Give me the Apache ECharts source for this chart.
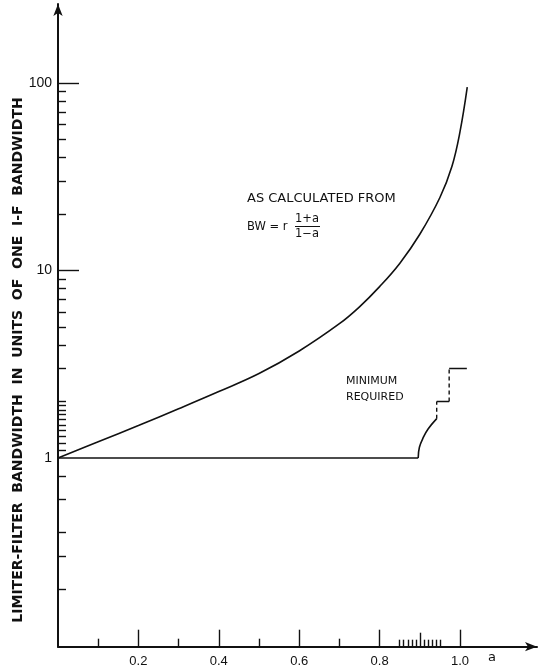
<!DOCTYPE html>
<html>
<head>
<meta charset="utf-8">
<script src="https://cdn.jsdelivr.net/npm/echarts@6/dist/echarts.min.js"></script>
<style>
  html, body { margin: 0; padding: 0; background: #fff; }
  #chart { width: 541px; height: 669px; }
</style>
</head>
<body>
<div id="chart"></div>
<script>
// Limiter-filter bandwidth vs. a (log scale on the bandwidth axis)

// Curve "as calculated from BW = r (1+a)/(1-a)"
const calcA  = [0, 0.1, 0.2, 0.3, 0.4, 0.5, 0.6, 0.7, 0.75, 0.8, 0.85, 0.9, 0.95, 0.98, 1.0, 1.018];
const calcBW = [1, 1.22, 1.49, 1.83, 2.26, 2.82, 3.72, 5.2, 6.4, 8.2, 10.9, 15.6, 24.5, 36, 55, 95];

// "Minimum required": flat part, curved rise, then steps
const minFlatA  = [0, 0.896];
const minFlatBW = [1, 1];
const minRiseA  = [0.896, 0.899, 0.909, 0.921, 0.942];
const minRiseBW = [1, 1.14, 1.29, 1.43, 1.62];
const stepRiseA  = [[0.942, 0.942], [0.973, 0.973]];
const stepRiseBW = [[1.62, 2], [2, 3]];
const stepFlatA  = [[0.942, 0.973], [0.973, 1.017]];
const stepFlatBW = [[2, 2], [3, 3]];

// Tick marks and labels
const xMajorTicks = [0.2, 0.4, 0.6, 0.8, 1.0];
const xMinorTicks = [0.1, 0.3, 0.5, 0.7];
const xFineTicks  = [0.85, 0.86, 0.87, 0.88, 0.89, 0.91, 0.92, 0.93, 0.94, 0.95];
const xMidTicks   = [0.9];
const yLabels     = [1, 10, 100];
const yMajorTicks = [10, 100];
const yMinorTicks = [0.2, 0.3, 0.4, 0.6, 0.8,
                     1.1, 1.2, 1.3, 1.4, 1.5, 1.6, 1.7, 1.8, 1.9, 2,
                     3, 4, 5, 6, 7, 8, 9,
                     20, 30, 40, 50, 60, 70, 80, 90];

const pairs = (xs, ys) => xs.map((x, i) => [x, ys[i]]);

const INK = '#111';
const X_MIN = 0, X_MAX = 1.1915;
const Y_MIN = 0.0984, Y_MAX = 264;

function xAxisDef(ticks, len, opts) {
  return Object.assign({
    type: 'value', min: X_MIN, max: X_MAX, position: 'bottom',
    splitLine: { show: false },
    axisLine: { show: false },
    axisTick: { show: true, inside: true, length: len, customValues: ticks,
                lineStyle: { color: INK, width: 1.4 } },
    axisLabel: { show: false }
  }, opts || {});
}
function yAxisDef(ticks, len, opts) {
  return Object.assign({
    type: 'log', logBase: 10, min: Y_MIN, max: Y_MAX, position: 'left',
    splitLine: { show: false },
    axisLine: { show: false },
    axisTick: { show: true, inside: true, length: len, customValues: ticks,
                lineStyle: { color: INK, width: 1.4 } },
    axisLabel: { show: false }
  }, opts || {});
}

const chart = echarts.init(document.getElementById('chart'), null, { renderer: 'canvas' });

const solid = { color: INK, width: 1.6 };
const series = [
  { type: 'line', xAxisIndex: 0, yAxisIndex: 0, data: pairs(calcA, calcBW),
    smooth: 0.4, showSymbol: false, lineStyle: solid },
  { type: 'line', xAxisIndex: 0, yAxisIndex: 0, data: pairs(minFlatA, minFlatBW),
    showSymbol: false, lineStyle: solid },
  { type: 'line', xAxisIndex: 0, yAxisIndex: 0, data: pairs(minRiseA, minRiseBW),
    smooth: 0.4, showSymbol: false, lineStyle: solid }
];
stepRiseA.forEach((xs, i) => series.push({
  type: 'line', xAxisIndex: 0, yAxisIndex: 0, data: pairs(xs, stepRiseBW[i]),
  showSymbol: false, lineStyle: { color: INK, width: 1.4, type: [4, 3] }
}));
stepFlatA.forEach((xs, i) => series.push({
  type: 'line', xAxisIndex: 0, yAxisIndex: 0, data: pairs(xs, stepFlatBW[i]),
  showSymbol: false, lineStyle: solid
}));

chart.setOption({
  backgroundColor: '#fff',
  animation: false,
  grid: { left: 58, right: 4, top: 4, bottom: 22.3, containLabel: false },
  xAxis: [
    xAxisDef(xMajorTicks, 17, {
      axisLine: { show: true, symbol: ['none', 'arrow'], symbolSize: [7, 12],
                  lineStyle: { color: INK, width: 2 } },
      axisLabel: { show: true, customValues: xMajorTicks, margin: 8,
                   color: INK, fontFamily: 'Liberation Sans', fontSize: 13,
                   formatter: v => v.toFixed(1) }
    }),
    xAxisDef(xMinorTicks, 8),
    xAxisDef(xFineTicks, 7),
    xAxisDef(xMidTicks, 14)
  ],
  yAxis: [
    yAxisDef(yMajorTicks, 21, {
      axisLine: { show: true, symbol: ['none', 'arrow'], symbolSize: [7, 12],
                  lineStyle: { color: INK, width: 2 } },
      axisLabel: { show: true, customValues: yLabels, margin: 6,
                   color: INK, fontFamily: 'Liberation Sans', fontSize: 14,
                   formatter: v => String(v) }
    }),
    yAxisDef(yMinorTicks, 8)
  ],
  series: series,
  graphic: [
    { type: 'text', x: 18, y: 360, rotation: Math.PI / 2,
      style: { text: 'LIMITER-FILTER  BANDWIDTH  IN  UNITS  OF  ONE  I-F  BANDWIDTH',
               fill: INK, font: 'bold 14px "DejaVu Sans"',
               align: 'center', verticalAlign: 'middle' } },
    { type: 'text', x: 247, y: 199,
      style: { text: 'AS CALCULATED FROM', fill: INK, font: '13px "DejaVu Sans"',
               verticalAlign: 'middle' } },
    { type: 'text', x: 247, y: 227,
      style: { text: 'BW = r', fill: INK, font: '11.5px "DejaVu Sans"', verticalAlign: 'middle' } },
    { type: 'text', x: 307, y: 219,
      style: { text: '1+a', fill: INK, font: '11.5px "DejaVu Sans"', align: 'center', verticalAlign: 'middle' } },
    { type: 'line', shape: { x1: 295, y1: 226.5, x2: 320, y2: 226.5 },
      style: { stroke: INK, lineWidth: 1 } },
    { type: 'text', x: 307, y: 234,
      style: { text: '1\u2212a', fill: INK, font: '11.5px "DejaVu Sans"', align: 'center', verticalAlign: 'middle' } },
    { type: 'text', x: 346, y: 381,
      style: { text: 'MINIMUM', fill: INK, font: '11px "DejaVu Sans"', verticalAlign: 'middle' } },
    { type: 'text', x: 346, y: 397,
      style: { text: 'REQUIRED', fill: INK, font: '11px "DejaVu Sans"', verticalAlign: 'middle' } },
    { type: 'text', x: 488, y: 658,
      style: { text: 'a', fill: INK, font: '13px "DejaVu Sans"', verticalAlign: 'middle' } }
  ]
});
</script>
</body>
</html>
